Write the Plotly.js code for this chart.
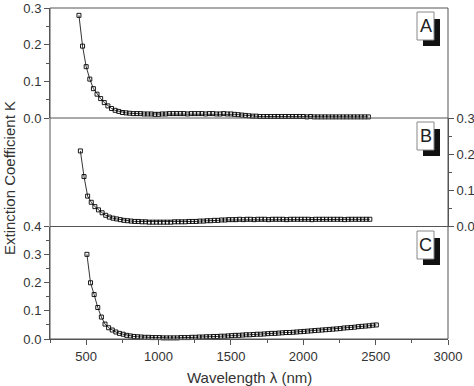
<!DOCTYPE html>
<html>
<head>
<meta charset="utf-8">
<script src="https://cdn.plot.ly/plotly-3.0.1.min.js"></script>
<style>html,body{margin:0;padding:0;background:#fff;}#plot{width:474px;height:386px;}</style>
</head>
<body>
<div id="plot"></div>
<script>
// Panel A data
const wlA = [450,475,500,525,550,575,600,625,650,675,
  700,725,750,775,800,825,850,875,900,925,
  950,975,1000,1025,1050,1075,1100,1125,1150,1175,
  1200,1225,1250,1275,1300,1325,1350,1375,1400,1425,
  1450,1475,1500,1525,1550,1575,1600,1625,1650,1675,
  1700,1725,1750,1775,1800,1825,1850,1875,1900,1925,
  1950,1975,2000,2025,2050,2075,2100,2125,2150,2175,
  2200,2225,2250,2275,2300,2325,2350,2375,2400,2425,
  2450];
const kA = [0.280,0.196,0.140,0.106,0.080,0.065,0.053,0.042,0.033,0.026,
  0.021,0.018,0.015,0.014,0.013,0.012,0.012,0.012,0.011,0.011,
  0.011,0.010,0.010,0.011,0.011,0.012,0.012,0.012,0.012,0.012,
  0.011,0.012,0.012,0.012,0.012,0.011,0.012,0.012,0.011,0.011,
  0.012,0.011,0.011,0.010,0.009,0.008,0.007,0.006,0.005,0.005,
  0.004,0.004,0.004,0.004,0.004,0.004,0.004,0.004,0.004,0.004,
  0.004,0.004,0.004,0.003,0.004,0.003,0.003,0.003,0.003,0.003,
  0.003,0.003,0.003,0.003,0.003,0.003,0.003,0.003,0.003,0.003,
  0.003];
// Panel B data
const wlB = [460,485,510,535,560,585,610,635,660,685,
  710,735,760,785,810,835,860,885,910,935,
  960,985,1010,1035,1060,1085,1110,1135,1160,1185,
  1210,1235,1260,1285,1310,1335,1360,1385,1410,1435,
  1460,1485,1510,1535,1560,1585,1610,1635,1660,1685,
  1710,1735,1760,1785,1810,1835,1860,1885,1910,1935,
  1960,1985,2010,2035,2060,2085,2110,2135,2160,2185,
  2210,2235,2260,2285,2310,2335,2360,2385,2410,2435,
  2460];
const kB = [0.209,0.138,0.084,0.067,0.055,0.046,0.038,0.031,0.026,0.023,
  0.021,0.019,0.017,0.016,0.015,0.014,0.014,0.013,0.013,0.012,
  0.012,0.012,0.012,0.012,0.012,0.012,0.013,0.013,0.013,0.013,
  0.014,0.014,0.014,0.015,0.015,0.016,0.016,0.017,0.017,0.018,
  0.018,0.019,0.019,0.019,0.020,0.019,0.020,0.020,0.019,0.020,
  0.020,0.020,0.019,0.020,0.020,0.020,0.020,0.019,0.020,0.020,
  0.020,0.020,0.020,0.020,0.019,0.020,0.020,0.020,0.020,0.020,
  0.020,0.020,0.020,0.019,0.020,0.020,0.020,0.020,0.020,0.020,
  0.020];
// Panel C data
const wlC = [505,530,555,580,605,630,655,680,705,730,
  755,780,805,830,855,880,905,930,955,980,
  1005,1030,1055,1080,1105,1130,1155,1180,1205,1230,
  1255,1280,1305,1330,1355,1380,1405,1430,1455,1480,
  1505,1530,1555,1580,1605,1630,1655,1680,1705,1730,
  1755,1780,1805,1830,1855,1880,1905,1930,1955,1980,
  2005,2030,2055,2080,2105,2130,2155,2180,2205,2230,
  2255,2280,2305,2330,2355,2380,2405,2430,2455,2480,
  2505];
const kC = [0.301,0.200,0.158,0.112,0.078,0.053,0.040,0.032,0.025,0.020,
  0.017,0.013,0.011,0.009,0.008,0.007,0.006,0.006,0.005,0.005,
  0.005,0.004,0.004,0.004,0.004,0.004,0.005,0.005,0.005,0.006,
  0.006,0.007,0.007,0.008,0.008,0.009,0.009,0.010,0.010,0.011,
  0.012,0.013,0.013,0.014,0.015,0.015,0.016,0.017,0.017,0.018,
  0.019,0.020,0.020,0.021,0.022,0.023,0.023,0.024,0.025,0.026,
  0.027,0.028,0.029,0.030,0.031,0.032,0.033,0.034,0.035,0.036,
  0.037,0.039,0.040,0.041,0.042,0.044,0.045,0.046,0.047,0.049,
  0.050];
const xTicks = [500,1000,1500,2000,2500,3000];
const yTicks3 = [0, 0.1, 0.2, 0.3];
const yTicks4 = [0, 0.1, 0.2, 0.3, 0.4];
const panelLabels = ['A','B','C'];

const W = 474, H = 386;
const M = {l:50, r:26, t:8, b:47};
const PW = W - M.l - M.r, PH = H - M.t - M.b;
const px2x = p => (p - M.l) / PW;
const px2y = p => (H - M.b - p) / PH;
const dC = [0, px2y(226.5)];
const dB = [px2y(226.5), px2y(118)];
const dA = [px2y(118), 1];

const lineCol = '#555';
const txtCol = '#333';
const font = {family: 'Liberation Sans, Arial, sans-serif', size: 13, color: txtCol};

function tr(x, y, ya) {
  return {x: x, y: y, yaxis: ya, xaxis: 'x', type: 'scatter', mode: 'lines+markers',
    line: {color: '#000', width: 0.8},
    marker: {symbol: 'square-open', size: 4, color: '#000', line: {width: 0.9, color: '#000'}},
    showlegend: false, hoverinfo: 'skip', cliponaxis: false};
}
const data = [tr(wlA, kA, 'y3'), tr(wlB, kB, 'y2'), tr(wlC, kC, 'y')];

const yCommon = {showgrid: false, zeroline: false, showline: true, linecolor: lineCol, linewidth: 1,
  ticks: 'outside', ticklen: 5, tickwidth: 1, tickcolor: lineCol, tickformat: '.1f', tickmode: 'array',
  ticklabeloverflow: 'allow', tickfont: font,
  minor: {ticks: 'outside', ticklen: 3, tickwidth: 1, tickcolor: lineCol, dtick: 0.05, tick0: 0}, anchor: 'x', fixedrange: true};

const shapes = [
  {type: 'rect', xref: 'paper', yref: 'paper', x0: 0, x1: 1, y0: 0, y1: 1, line: {color: lineCol, width: 1}},
  {type: 'line', xref: 'paper', yref: 'paper', x0: 0, x1: 1, y0: dB[0], y1: dB[0], line: {color: lineCol, width: 1}},
  {type: 'line', xref: 'paper', yref: 'paper', x0: 0, x1: 1, y0: dA[0], y1: dA[0], line: {color: lineCol, width: 1}}
];
const annotations = [];
const boxTops = [12, 122, 231];
panelLabels.forEach((lab, i) => {
  const t = boxTops[i];
  shapes.push({type: 'rect', xref: 'paper', yref: 'paper', x0: px2x(423), x1: px2x(440), y0: px2y(t + 34), y1: px2y(t + 7), fillcolor: '#111', line: {width: 0}});
  shapes.push({type: 'rect', xref: 'paper', yref: 'paper', x0: px2x(417), x1: px2x(434), y0: px2y(t + 28), y1: px2y(t), fillcolor: '#fff', line: {color: '#888', width: 1}});
  annotations.push({text: lab, xref: 'paper', yref: 'paper', x: px2x(425.5), y: px2y(t + 14), xanchor: 'center', yanchor: 'middle', showarrow: false, font: {family: font.family, size: 18, color: '#222'}});
});
annotations.push({text: 'Extinction Coefficient K', xref: 'paper', yref: 'paper', x: px2x(10), y: px2y(178), textangle: -90, xanchor: 'center', yanchor: 'middle', showarrow: false, font: {family: font.family, size: 15, color: txtCol}});
annotations.push({text: 'Wavelength λ (nm)', xref: 'paper', yref: 'paper', x: 0.5, y: px2y(377), xanchor: 'center', yanchor: 'middle', showarrow: false, font: {family: font.family, size: 15, color: txtCol}});

const layout = {
  width: W, height: H, margin: M, paper_bgcolor: '#fff', plot_bgcolor: '#fff', showlegend: false,
  xaxis: {range: [250, 3000], tickmode: 'array', tickvals: xTicks, showgrid: false, zeroline: false, showline: true, linecolor: lineCol,
    ticks: 'outside', ticklen: 5, tickcolor: lineCol, tickfont: font, anchor: 'y', fixedrange: true,
    minor: {ticks: 'outside', ticklen: 3, tickcolor: lineCol, dtick: 250, tick0: 0}},
  yaxis: Object.assign({}, yCommon, {domain: dC, range: [0, 0.4], side: 'left', tickvals: yTicks4}),
  yaxis2: Object.assign({}, yCommon, {domain: dB, range: [0, 0.3], side: 'right', tickvals: yTicks3}),
  yaxis3: Object.assign({}, yCommon, {domain: dA, range: [0, 0.3], side: 'left', tickvals: yTicks3}),
  shapes: shapes, annotations: annotations
};
Plotly.newPlot('plot', data, layout, {displayModeBar: false, staticPlot: true});
</script>
</body>
</html>
